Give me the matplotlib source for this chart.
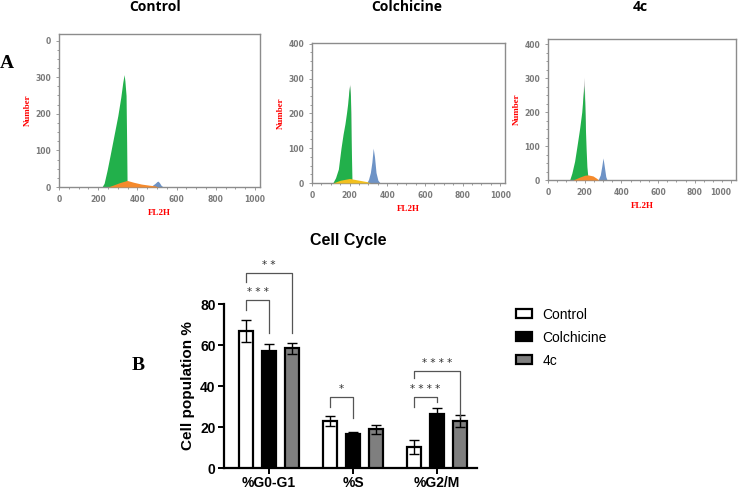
import matplotlib
matplotlib.use("Agg")
import matplotlib.pyplot as plt
from matplotlib.patches import Patch
import numpy as np

# ---- flow cytometry histograms (FL2H vs Number) ----
ctrl_g1_x = [219, 230, 245, 260, 280, 300, 315, 325, 332, 336, 342, 345, 347]
ctrl_g1_y = [0, 10, 45, 85, 140, 195, 245, 285, 307, 290, 250, 120, 18]
ctrl_s_x = [250, 280, 310, 347, 380, 420, 460, 490, 505]
ctrl_s_y = [0, 6, 12, 18, 13, 8, 5, 3, 0]
ctrl_g2_x = [460, 475, 490, 500, 505, 512, 520, 531]
ctrl_g2_y = [0, 4, 10, 15, 16, 12, 5, 0]

colc_g1_x = [110, 125, 140, 154, 165, 175, 183, 190, 195, 200, 204, 208, 212]
colc_g1_y = [0, 15, 40, 100, 140, 170, 200, 230, 260, 280, 250, 120, 15]
colc_tip_x = [192, 196, 200, 204, 207]
colc_tip_y = [230, 265, 284, 255, 200]
colc_s_x = [112, 150, 200, 250, 290, 310]
colc_s_y = [0, 8, 13, 8, 4, 0]
colc_g2_x = [290, 300, 310, 318, 325, 332, 340, 350, 362]
colc_g2_y = [0, 10, 30, 60, 100, 75, 30, 8, 0]

c4_g1_x = [118, 130, 145, 158, 172, 184, 190, 196, 200, 204, 208, 212, 218]
c4_g1_y = [0, 20, 55, 100, 150, 200, 240, 278, 230, 150, 90, 40, 5]
c4_tip_x = [188, 192, 196, 200, 204]
c4_tip_y = [220, 260, 302, 250, 170]
c4_s_x = [137, 170, 200, 218, 245, 265, 275]
c4_s_y = [0, 8, 14, 15, 12, 5, 0]
c4_g2_x = [273, 285, 293, 300, 307, 315, 322]
c4_g2_y = [0, 15, 40, 65, 40, 10, 0]

# ---- bar chart data ----
phases = ["%G0-G1", "%S", "%G2/M"]
treatments = ["Control", "Colchicine", "4c"]
control_mean = [66.8, 22.8, 10.3]
control_err = [5.2, 2.5, 3.3]
colchicine_mean = [57.0, 16.5, 26.5]
colchicine_err = [3.7, 1.2, 2.7]
c4_mean = [58.4, 18.8, 22.8]
c4_err = [2.8, 2.0, 3.0]

W, H = 738, 490
fig = plt.figure(figsize=(W / 100, H / 100), dpi=100)


def px_axes(left, top, right, bottom):
    return fig.add_axes([left / W, 1 - bottom / H, (right - left) / W, (bottom - top) / H])


green = "#22b04b"
orange = "#f58a2c"
yellow = "#f2c01e"
blue = "#6e93c6"
frame_col = "#8c8c8c"


def histo(ax, comps, s_color, ylabels, tip=None):
    g1, s, g2 = comps
    if tip is not None:
        ax.fill_between(tip[0], tip[1], color="#b5b5b5", lw=0, zorder=1)
    ax.fill_between(g1[0], g1[1], color=green, lw=0, zorder=2)
    ax.fill_between(g2[0], g2[1], color=blue, lw=0, zorder=2)
    # S phase component sits over the base of the G1 peak
    ax.fill_between(s[0], s[1], color=s_color, lw=0, zorder=3)
    ax.set_xlim(0, 1025)
    ax.set_xticks([0, 200, 400, 600, 800, 1000])
    ax.set_xticks(np.arange(0, 1001, 50), minor=True)
    ax.set_yticks([0, 100, 200, 300, 400])
    ax.set_yticks(np.arange(0, 401, 25), minor=True)
    ax.set_yticklabels(ylabels)
    for sp in ax.spines.values():
        sp.set_color(frame_col)
        sp.set_linewidth(1.0)
    ax.tick_params(which="both", colors=frame_col, labelsize=5.5, length=2, width=0.6)
    ax.tick_params(which="minor", length=1.2)
    for lab in ax.get_xticklabels() + ax.get_yticklabels():
        lab.set_color("#7a7a7a")
        lab.set_fontweight("bold")
    ax.set_xlabel("FL2H", color="red", fontsize=6.5, fontweight="bold",
                  family="Liberation Serif", labelpad=4)
    ax.set_ylabel("Number", color="red", fontsize=6.5, fontweight="bold",
                  family="Liberation Serif", labelpad=3)


ax1 = px_axes(59, 34, 260, 187)
histo(ax1, [(ctrl_g1_x, ctrl_g1_y), (ctrl_s_x, ctrl_s_y), (ctrl_g2_x, ctrl_g2_y)],
      orange, ["0", "100", "200", "300", "0"])
ax1.set_ylim(0, 418)

ax2 = px_axes(312, 43, 505, 183)
histo(ax2, [(colc_g1_x, colc_g1_y), (colc_s_x, colc_s_y), (colc_g2_x, colc_g2_y)],
      yellow, ["0", "100", "200", "300", "400"], tip=(colc_tip_x, colc_tip_y))
ax2.set_ylim(0, 402)

ax3 = px_axes(548, 39, 736, 180)
histo(ax3, [(c4_g1_x, c4_g1_y), (c4_s_x, c4_s_y), (c4_g2_x, c4_g2_y)],
      orange, ["0", "100", "200", "300", "400"], tip=(c4_tip_x, c4_tip_y))
ax3.set_ylim(0, 415)
ax3.get_xticklabels()[-1].set_horizontalalignment("right")

for label, x in zip(treatments, [155, 407, 640]):
    fig.text(x / W, 1 - 7 / H, label, ha="center", va="center",
             fontsize=10, fontweight="bold", family="Open Sans")

fig.text(7 / W, 1 - 64 / H, "A", ha="center", va="center", fontsize=14,
         fontweight="bold", family="Liberation Serif")
fig.text(138 / W, 1 - 365 / H, "B", ha="center", va="center", fontsize=14,
         fontweight="bold", family="Liberation Serif")

# ---- bar chart ----
axb = px_axes(224, 304, 477, 468)
x = np.arange(len(phases))
off = 0.274
bw = 0.165
kw = dict(width=bw, edgecolor="black", linewidth=1.6, zorder=3)
ekw = dict(fmt="none", ecolor="black", elinewidth=1.0, capsize=3.5, capthick=1.0, zorder=4)
axb.bar(x - off, control_mean, color="white", label=treatments[0], **kw)
axb.bar(x, colchicine_mean, color="black", label=treatments[1], **kw)
axb.bar(x + off, c4_mean, color="#7f7f7f", label=treatments[2], **kw)
axb.errorbar(x - off, control_mean, yerr=control_err, **ekw)
axb.errorbar(x, colchicine_mean, yerr=colchicine_err, **ekw)
axb.errorbar(x + off, c4_mean, yerr=c4_err, **ekw)

axb.set_xlim(-0.536, 2.476)
axb.set_ylim(0, 80)
axb.set_yticks([0, 20, 40, 60, 80])
axb.set_xticks(x)
axb.set_xticklabels(phases)
for side in ["top", "right"]:
    axb.spines[side].set_visible(False)
for side in ["left", "bottom"]:
    axb.spines[side].set_linewidth(1.6)
axb.tick_params(width=1.4, length=4, labelsize=10, pad=2)
for lab in axb.get_xticklabels() + axb.get_yticklabels():
    lab.set_fontweight("bold")
    lab.set_family("Liberation Sans")
axb.set_ylabel("Cell population %", fontsize=11, fontweight="bold",
               family="Liberation Sans", labelpad=4)
fig.text(348 / W, 1 - 240 / H, "Cell Cycle", ha="center", va="center",
         fontsize=11.5, fontweight="bold", family="Liberation Sans")

# significance brackets: (x1, x2, top, left_end, right_end, stars)
brackets = [
    (0 - off, 0, 82, 77, 66, "* * *"),
    (0 - off, 0 + off, 95, 90.7, 66, "* *"),
    (1 - off, 1, 34.6, 30, 24.4, "*"),
    (2 - off, 2, 34.6, 30, 32, "* * * *"),
    (2 - off, 2 + off, 47.3, 44, 25, "* * * *"),
]
for x1, x2, top, y1, y2, stars in brackets:
    axb.plot([x1, x1, x2, x2], [y1, top, top, y2], color="#555555", lw=0.9,
             clip_on=False, zorder=5)
    axb.text((x1 + x2) / 2, top + 1.5, stars, ha="center", va="bottom",
             fontsize=7.5, color="#333333")

handles = [Patch(facecolor=c, edgecolor="black", linewidth=1.6, label=t)
           for c, t in zip(["white", "black", "#7f7f7f"], treatments)]
fig.legend(handles=handles, loc="upper left", bbox_to_anchor=(503 / W, 1 - 295 / H),
           frameon=False, prop={"family": "Liberation Sans", "size": 10},
           handlelength=1.2, handleheight=0.6, labelspacing=0.65, handletextpad=0.75)

fig.savefig("out.png", dpi=100)
